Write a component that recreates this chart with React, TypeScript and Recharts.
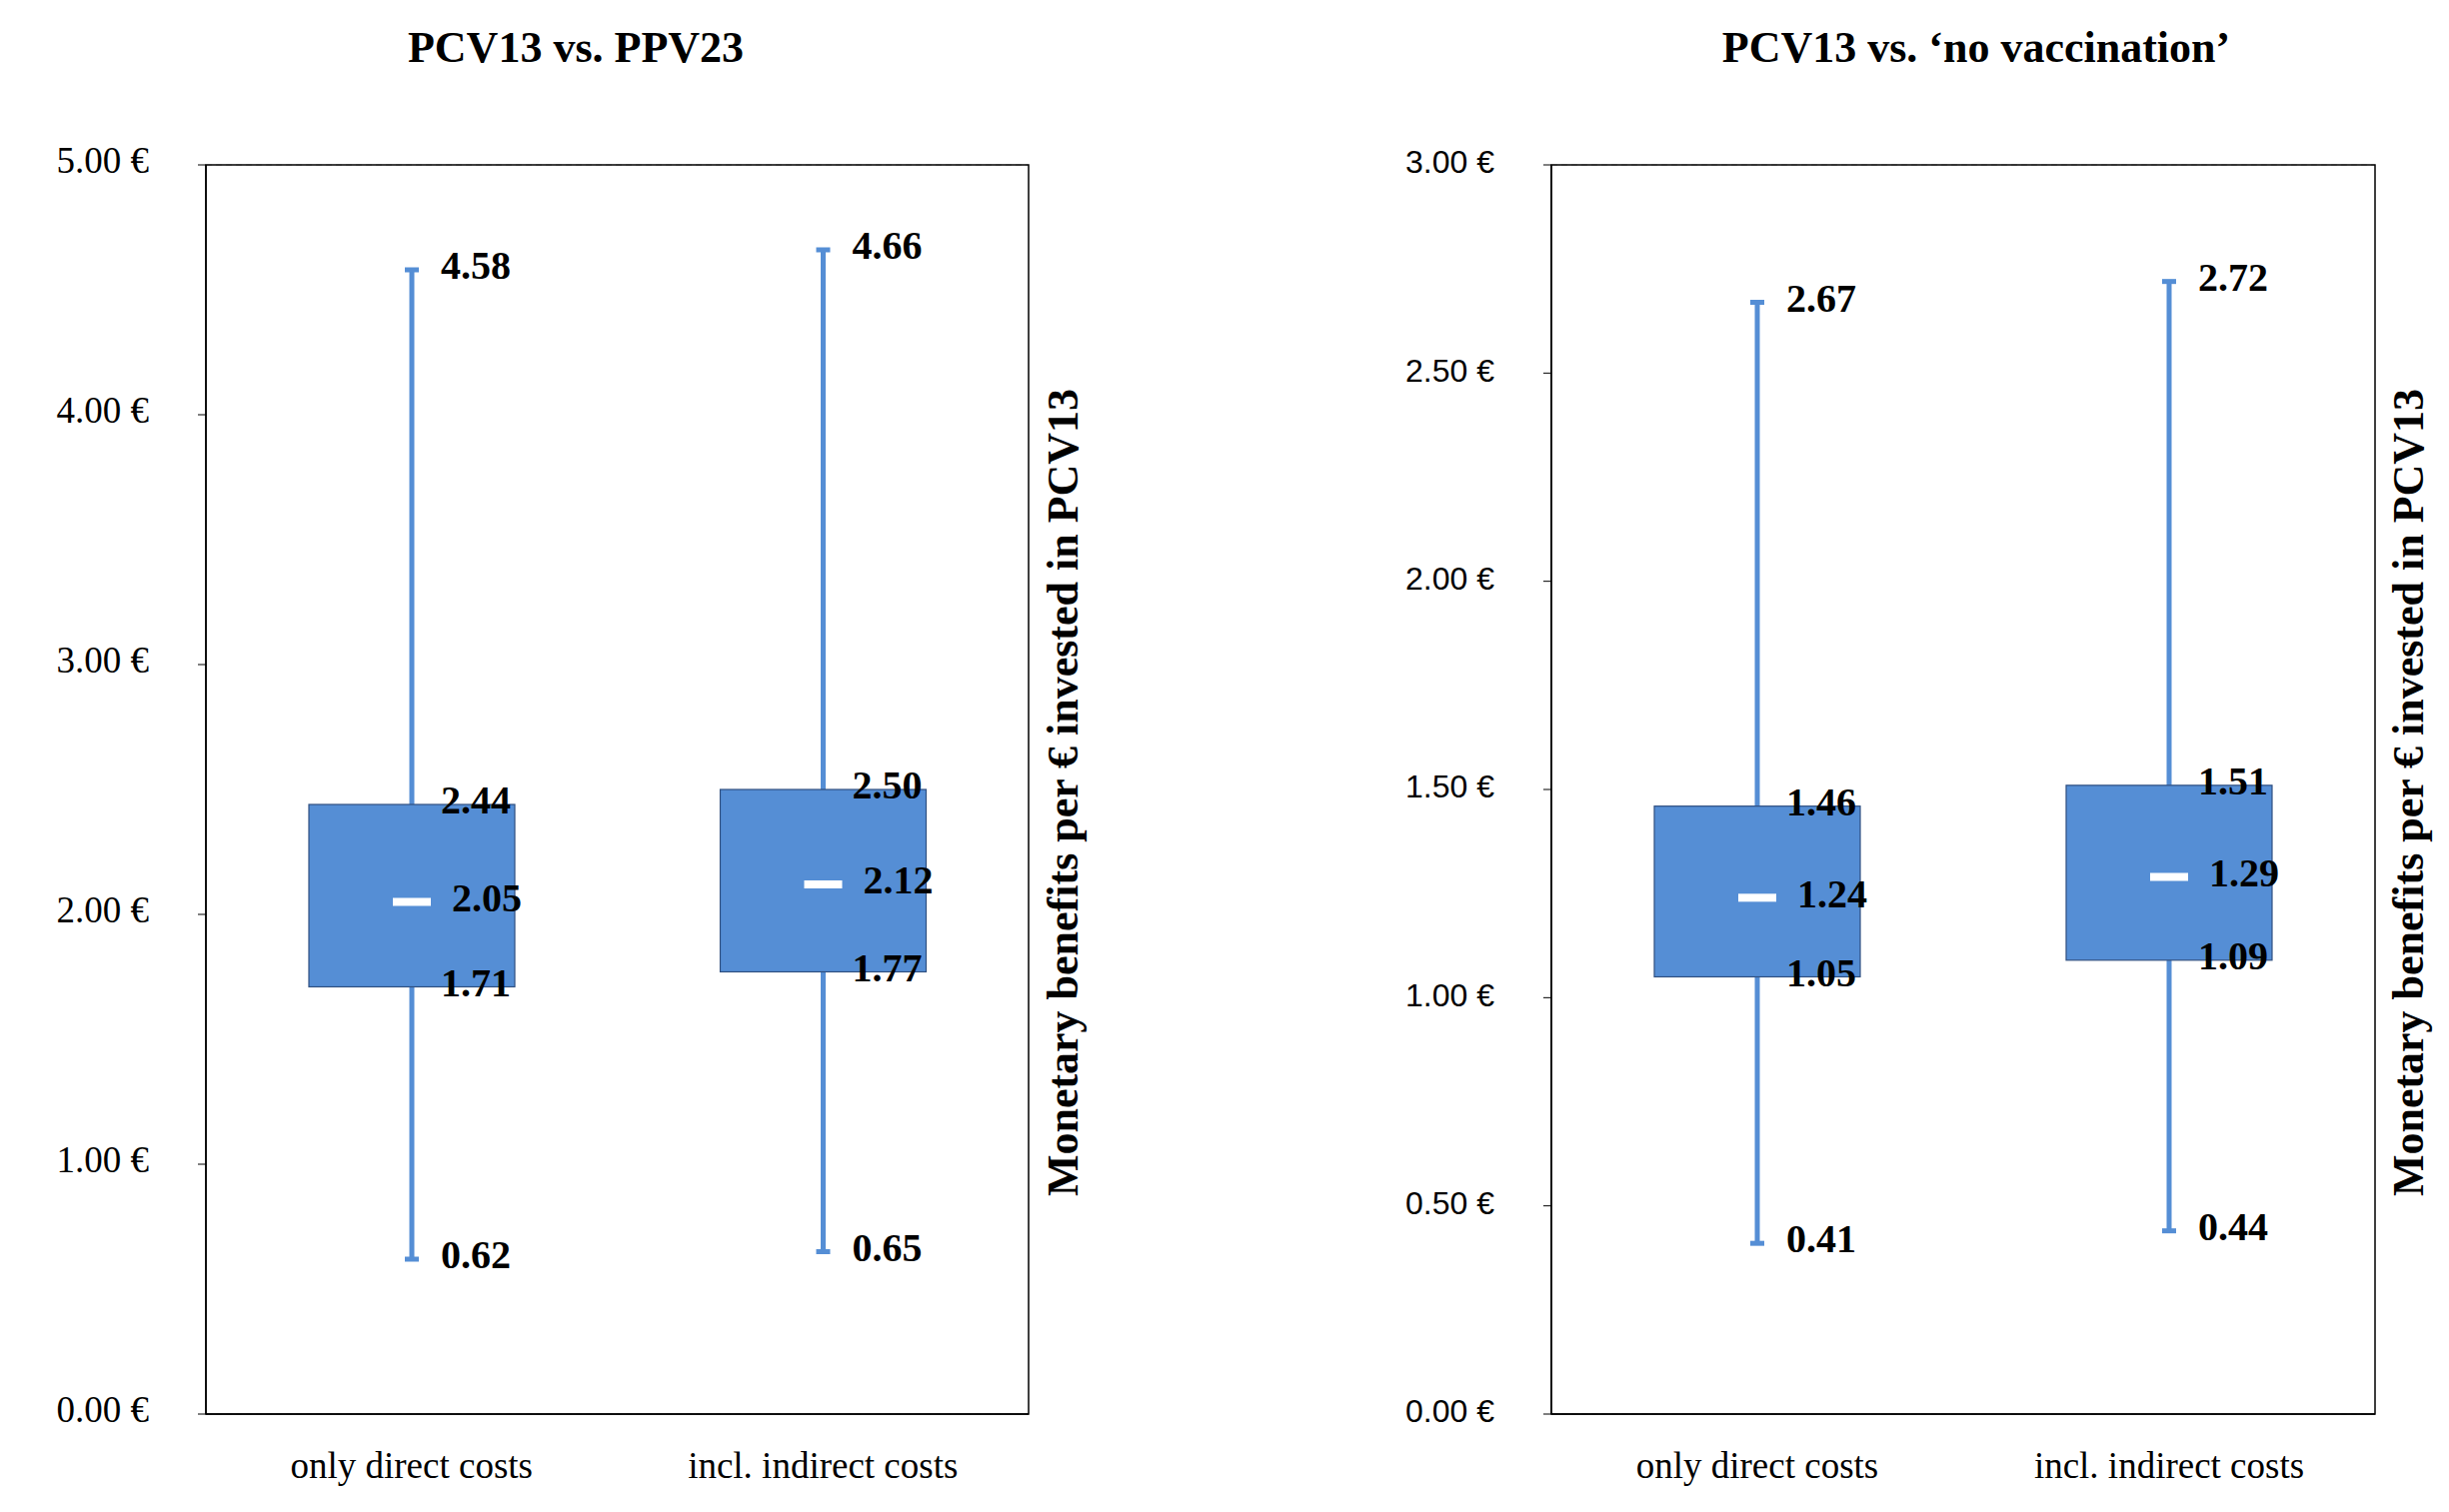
import React from 'react';
import { ComposedChart, Bar, XAxis, YAxis, CartesianGrid, ReferenceArea } from 'recharts';

const categories = ['only direct costs', 'incl. indirect costs'];
const ppvMin = [0.62, 0.65];
const ppvQ1 = [1.71, 1.77];
const ppvMed = [2.05, 2.12];
const ppvQ3 = [2.44, 2.5];
const ppvMax = [4.58, 4.66];
const noMin = [0.41, 0.44];
const noQ1 = [1.05, 1.09];
const noMed = [1.24, 1.29];
const noQ3 = [1.46, 1.51];
const noMax = [2.67, 2.72];
const ppvTicks = [0, 1, 2, 3, 4, 5];
const noTicks = [0, 0.5, 1, 1.5, 2, 2.5, 3];

const BLUE = '#558ED5';
const SERIF = '"Liberation Serif", "Times New Roman", serif';
const SANS = '"Liberation Sans", Arial, sans-serif';
const LBL = { fontFamily: SERIF, fontWeight: 700, fontSize: 40, fill: '#000' };

const build = (mn: number[], q1: number[], md: number[], q3: number[], mx: number[]) =>
  categories.map((c, i) => ({ name: c, whisker: [mn[i], mx[i]], box: [q1[i], q3[i]], mn: mn[i], q1: q1[i], md: md[i], q3: q3[i], mx: mx[i] }));

const WhiskerShape = (p: any) => {
  const cx = p.x + p.width / 2;
  const top = p.y, bot = p.y + p.height;
  return (
    <g>
      <line x1={cx} x2={cx} y1={top} y2={bot} stroke={BLUE} strokeWidth={5} />
      <line x1={cx - 7} x2={cx + 7} y1={top} y2={top} stroke={BLUE} strokeWidth={5} />
      <line x1={cx - 7} x2={cx + 7} y1={bot} y2={bot} stroke={BLUE} strokeWidth={5} />
      <text x={cx + 29} y={top} dominantBaseline="middle" {...LBL}>{p.payload.mx.toFixed(2)}</text>
      <text x={cx + 29} y={bot} dominantBaseline="middle" {...LBL}>{p.payload.mn.toFixed(2)}</text>
    </g>
  );
};

const BoxShape = (p: any) => {
  const d = p.payload;
  const cx = p.x + p.width / 2;
  const my = p.y + (p.height * (d.q3 - d.md)) / (d.q3 - d.q1);
  return (
    <g>
      <rect x={p.x} y={p.y} width={p.width} height={p.height} fill={BLUE} stroke="#2F4F80" strokeWidth={1.2} />
      <rect x={cx - 19} y={my - 4} width={38} height={8} fill="#fff" />
      <text x={cx + 29} y={p.y} dominantBaseline="middle" {...LBL}>{d.q3.toFixed(2)}</text>
      <text x={cx + 29} y={p.y + p.height} dominantBaseline="middle" {...LBL}>{d.q1.toFixed(2)}</text>
      <text x={cx + 40} y={my} dominantBaseline="middle" {...LBL}>{d.md.toFixed(2)}</text>
    </g>
  );
};

const makeYTick = (font: string, size: number) => (p: any) => (
  <text x={p.x} y={p.y} textAnchor="end" dominantBaseline="middle" fontFamily={font} fontSize={size} fill="#000">
    {Number(p.payload.value).toFixed(2) + ' €'}
  </text>
);
const XTick = (p: any) => (
  <text x={p.x} y={p.y + 62} textAnchor="middle" fontFamily={SERIF} fontSize={37} fill="#000">{p.payload.value}</text>
);

const Panel = ({ data, ticks, width, left, right, tickFont, tickSize }: any) => {
  const lo = ticks[0], hi = ticks[ticks.length - 1];
  return (
    <ComposedChart width={width} height={1513} data={data} margin={{ top: 165, bottom: 38, left: left - 150, right }}>
      <CartesianGrid vertical={false} horizontal stroke="#b0b0b0" strokeDasharray="6 4" />
      <XAxis xAxisId="a" dataKey="name" height={60} tickLine={false} tickSize={0}
        axisLine={{ stroke: '#000', strokeWidth: 1.5 }} tick={XTick} />
      <XAxis xAxisId="b" dataKey="name" hide />
      <XAxis xAxisId="t" type="number" domain={[0, 2]} ticks={[0, 1, 2]} hide={false} height={0} tick={false}
        tickSize={10} axisLine={false} tickLine={{ stroke: '#000' }} />
      <YAxis yAxisId="l" width={150} domain={[lo, hi]} ticks={ticks}
        interval={0} tickSize={8} tickMargin={49} axisLine={{ stroke: '#000', strokeWidth: 1.5 }}
        tickLine={{ stroke: '#000' }} tick={makeYTick(tickFont, tickSize)} />
      <ReferenceArea xAxisId="a" yAxisId="l" y1={lo} y2={hi} fill="none" stroke="#000" strokeWidth={1.5} ifOverflow="visible" />
      <Bar xAxisId="b" yAxisId="l" dataKey="whisker" barSize={206} shape={WhiskerShape} isAnimationActive={false} />
      <Bar xAxisId="a" yAxisId="l" dataKey="box" barSize={206} shape={BoxShape} isAnimationActive={false} />
    </ComposedChart>
  );
};

const TITLE = { fontFamily: SERIF, fontWeight: 700, fontSize: 44, fill: '#000', textAnchor: 'middle' as const };

export default function App() {
  const d1 = build(ppvMin, ppvQ1, ppvMed, ppvQ3, ppvMax);
  const d2 = build(noMin, noQ1, noMed, noQ3, noMax);
  return (
    <div style={{ position: 'absolute', left: 0, top: 0, width: 2450, height: 1513, background: '#fff' }}>
      <div style={{ position: 'absolute', left: 0, top: 0 }}>
        <Panel data={d1} ticks={ppvTicks} width={1100} left={206} right={71} tickFont={SERIF} tickSize={37} />
      </div>
      <div style={{ position: 'absolute', left: 1100, top: 0 }}>
        <Panel data={d2} ticks={noTicks} width={1350} left={452} right={74} tickFont={SANS} tickSize={32} />
      </div>
      <svg width={2450} height={1513} style={{ position: 'absolute', left: 0, top: 0, pointerEvents: 'none' }}>
        <text x={576} y={52} dominantBaseline="middle" {...TITLE}>PCV13 vs. PPV23</text>
        <text x={1977} y={52} dominantBaseline="middle" {...TITLE}>PCV13 vs. ‘no vaccination’</text>
        <text transform="translate(1068,793) rotate(-90)" dominantBaseline="middle" {...TITLE}>Monetary benefits per € invested in PCV13</text>
        <text transform="translate(2414,793) rotate(-90)" dominantBaseline="middle" {...TITLE}>Monetary benefits per € invested in PCV13</text>
      </svg>
    </div>
  );
}
